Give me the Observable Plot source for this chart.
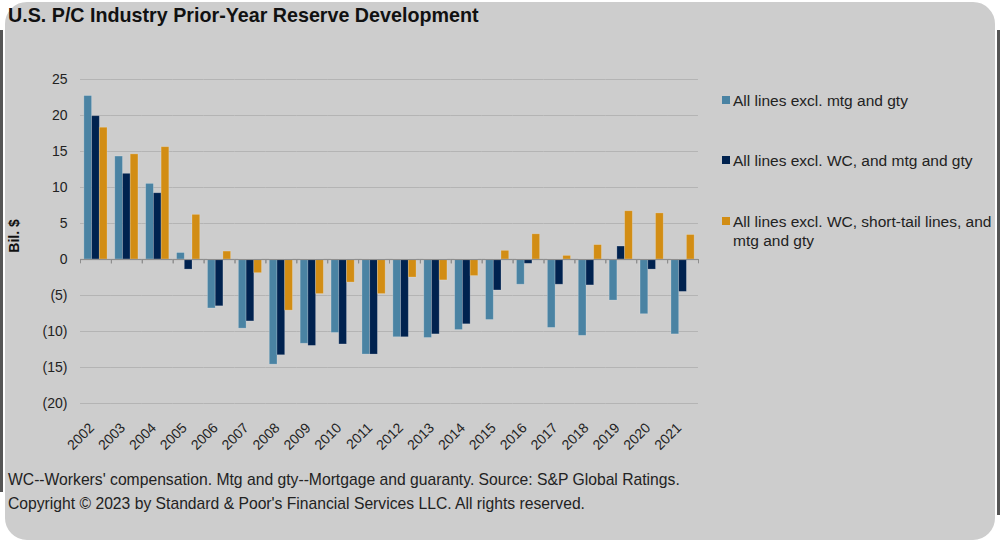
<!DOCTYPE html>
<html>
<head>
<meta charset="utf-8">
<script src="https://cdn.jsdelivr.net/npm/d3@7"></script>
<script src="https://cdn.jsdelivr.net/npm/@observablehq/plot@0.6"></script>
<style>
  html, body { margin: 0; padding: 0; background: #ffffff; }
  body { width: 1000px; height: 543px; position: relative; overflow: hidden;
         font-family: "Liberation Sans", Arial, sans-serif; }
  .strip { position: absolute; background: #555555; width: 6px; }
  .panel { position: absolute; left: 3px; top: 0px; width: 990px; height: 538px;
           background: #cdcdcd; border: 2px solid #ffffff; border-radius: 24px; }
  .title { position: absolute; left: 8px; top: 4px; font-size: 19.7px; font-weight: bold; color: #111; white-space: nowrap; }
  #chart { position: absolute; left: 0; top: 0; }
  .ylabel { position: absolute; left: 14px; top: 236px; font-size: 14px; font-weight: bold; color: #111;
            transform: translate(-50%, -50%) rotate(-90deg); white-space: nowrap; }
  .legend { position: absolute; left: 722px; top: 0; font-size: 15.5px; color: #222; }
  .legend .item { position: absolute; left: 0; width: 280px; line-height: 19px; }
  .legend .sw { position: absolute; left: 0; top: 5px; width: 8px; height: 8px; }
  .legend .lbl { position: absolute; left: 11px; top: 0; white-space: nowrap; }
  .foot { position: absolute; left: 8px; font-size: 15.7px; color: #222; white-space: nowrap; }
</style>
</head>
<body>
<div class="strip" style="left:0; top:30px; height:462px;"></div>
<div class="strip" style="left:994px; top:30px; height:485px;"></div>
<div class="panel"></div>
<div class="title">U.S. P/C Industry Prior-Year Reserve Development</div>
<div id="chart"></div>
<div class="ylabel">Bil. $</div>
<div class="legend" id="legend"></div>
<div class="foot" style="top:471px;">WC--Workers' compensation. Mtg and gty--Mortgage and guaranty. Source: S&amp;P Global Ratings.</div>
<div class="foot" style="top:495px;">Copyright © 2023 by Standard &amp; Poor's Financial Services LLC. All rights reserved.</div>
<script>
// Prior-year reserve development, billions of dollars (negative = favorable)
const years = ["2002","2003","2004","2005","2006","2007","2008","2009","2010","2011",
               "2012","2013","2014","2015","2016","2017","2018","2019","2020","2021"];
const seriesNames = [
  "All lines excl. mtg and gty",
  "All lines excl. WC, and mtg and gty",
  "All lines excl. WC, short-tail lines, and mtg and gty"
];
const allLinesExMtg = [22.7, 14.3, 10.5, 0.9, -6.8, -9.6, -14.6, -11.7, -10.2, -13.2,
                       -10.8, -10.9, -9.8, -8.4, -3.5, -9.5, -10.6, -5.7, -7.6, -10.4];
const allLinesExWC = [19.9, 11.9, 9.2, -1.4, -6.5, -8.6, -13.3, -12.0, -11.8, -13.2,
                      -10.8, -10.4, -9.0, -4.3, -0.6, -3.5, -3.6, 1.8, -1.4, -4.5];
const allLinesExWCShortTail = [18.3, 14.6, 15.6, 6.2, 1.1, -1.9, -7.1, -4.8, -3.2, -4.8,
                               -2.5, -2.9, -2.3, 1.2, 3.5, 0.5, 2.0, 6.7, 6.4, 3.4];
const yTicks = [-20, -15, -10, -5, 0, 5, 10, 15, 20, 25];
const colors = ["#4a83a3", "#00224f", "#d28d14"];

const seriesValues = [allLinesExMtg, allLinesExWC, allLinesExWCShortTail];
const data = years.flatMap((year, i) =>
  seriesNames.map((series, k) => ({year, series, value: seriesValues[k][i]})));

const W = 700, ML = 80, MR = 2;
const step = (W - ML - MR) / years.length / 4; // one bar slot inside a year group

const chart = Plot.plot({
  width: W,
  height: 460,
  marginLeft: ML,
  marginRight: MR,
  marginTop: 79,
  marginBottom: 57,
  style: {background: "transparent", fontFamily: "'Liberation Sans', Arial, sans-serif", fontSize: "14px", color: "#222"},
  facet: {data, x: "year"},
  fx: {domain: years, padding: 0, round: false, label: null},
  x: {domain: seriesNames, axis: null, paddingInner: 0, paddingOuter: 0.5, round: false},
  y: {domain: [-20, 25], ticks: yTicks, tickFormat: d => d < 0 ? `(${-d})` : `${d}`,
      tickSize: 0, tickPadding: 13, label: null},
  color: {domain: seriesNames, range: colors},
  marks: [
    Plot.ruleY(yTicks.filter(d => d !== 0), {stroke: "#b4b4b4", strokeWidth: 1}),
    Plot.barY(data, {x: "series", y: "value", fill: "series", stroke: "#ffffff", strokeOpacity: 0.25, strokeWidth: 0.8}),
    Plot.ruleY([0], {stroke: "#8e8e8e", strokeWidth: 1.2}),
    // category separators below the zero line
    Plot.ruleX([seriesNames[0]], {x: d => d, dx: -step, y1: 0, y2: -0.6, stroke: "#8e8e8e"}),
    Plot.ruleX([seriesNames[2]], {x: d => d, dx: step, y1: 0, y2: -0.6, stroke: "#8e8e8e"}),
    Plot.axisFx({anchor: "bottom", tickSize: 0, tickPadding: 15, tickRotate: -45, dx: -4, dy: 7, label: null})
  ]
});
document.getElementById("chart").appendChild(chart);

// legend
const legendTops = [91, 151, 212];
const legend = document.getElementById("legend");
seriesNames.forEach((name, k) => {
  const item = document.createElement("div");
  item.className = "item";
  item.style.top = legendTops[k] + "px";
  const sw = document.createElement("div");
  sw.className = "sw";
  sw.style.background = colors[k];
  const lbl = document.createElement("div");
  lbl.className = "lbl";
  lbl.innerHTML = k === 2 ? "All lines excl. WC, short-tail lines, and<br>mtg and gty" : name;
  item.appendChild(sw);
  item.appendChild(lbl);
  legend.appendChild(item);
});
</script>
</body>
</html>
